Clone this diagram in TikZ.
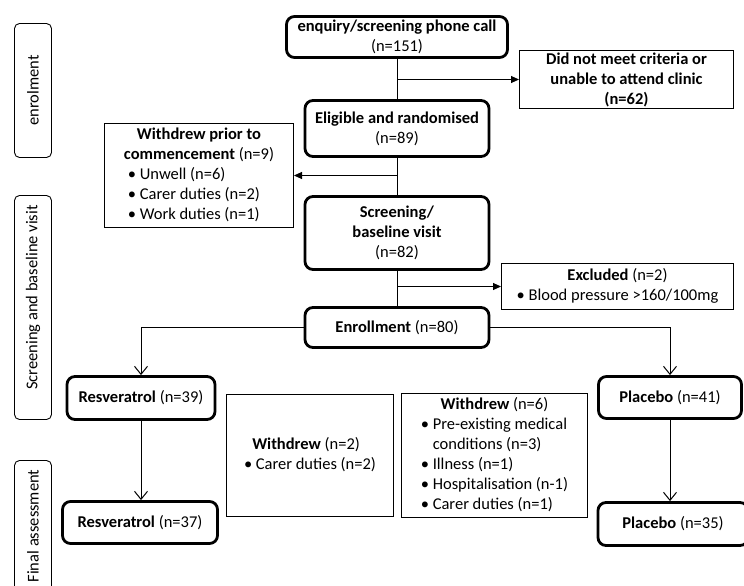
\documentclass[tikz,border=0pt]{standalone}
\usepackage{fontspec}
\setmainfont{Carlito}
\usepackage{tikz}
\usetikzlibrary{positioning, arrows.meta}

\newcommand{\bul}{\makebox[0.72em][l]{\textbullet}}

\begin{document}
\begin{tikzpicture}[x=1pt, y=-1pt,
    font=\fontsize{16.5}{20}\selectfont,
    stagebox/.style={draw, line width=2.8pt, rounded corners=8pt, align=center, inner sep=2pt},
    notebox/.style={draw, line width=1pt, align=center, inner sep=2pt},
    phasebox/.style={draw, line width=0.9pt, rounded corners=5pt, rotate=90, minimum height=37pt, inner sep=2pt},
    flow/.style={line width=1pt},
    sidearrow/.style={flow, -{Triangle[length=8pt, width=7pt]}},
    downarrow/.style={flow, -{Straight Barb[length=8pt, width=13pt]}}]
    \useasboundingbox (0,0) rectangle (744,586);

    % Study phases
    \node[phasebox, minimum width=134pt] (phenrol) at (33,90.5) {enrolment};
    \node[phasebox, minimum width=224pt] (phscreen) at (33,307.5) {\hspace*{20pt}Screening and baseline visit};
    \node[phasebox, minimum width=131pt] (phfinal) at (33,526) {Final assessment};

    % Main flow
    \node[stagebox, minimum width=221pt, minimum height=41pt] (call) at (397,37)
        {\textbf{enquiry/screening phone call}\\(n=151)};
    \node[stagebox, minimum width=184pt, minimum height=56pt] (elig) at (397,128.5)
        {\textbf{Eligible and randomised}\\(n=89)};
    \node[stagebox, minimum width=184pt, minimum height=73pt] (screen) at (397,233)
        {\textbf{Screening/}\\\textbf{baseline visit}\\(n=82)};
    \node[stagebox, minimum width=184pt, minimum height=40pt] (enrol) at (397,327.5)
        {\textbf{Enrollment} (n=80)};

    % Study arms
    \node[stagebox, minimum width=148pt, minimum height=43pt] (res1) at (141,398) {\textbf{Resveratrol} (n=39)};
    \node[stagebox, minimum width=155pt, minimum height=42pt] (res2) at (140,522.5) {\textbf{Resveratrol} (n=37)};
    \node[stagebox, minimum width=143pt, minimum height=42pt] (plac1) at (670,397.5) {\textbf{Placebo} (n=41)};
    \node[stagebox, minimum width=150pt, minimum height=43pt] (plac2) at (673,524) {\textbf{Placebo} (n=35)};

    % Exclusions and withdrawals
    \node[notebox, minimum width=214pt, minimum height=56pt] (notmet) at (626.5,79.5)
        {\textbf{Did not meet criteria or}\\\textbf{unable to attend clinic}\\\textbf{(n=62)}};
    \node[notebox, minimum width=189pt, minimum height=102pt] (wdprior) at (199,175.5)
        {\begin{tabular}{@{}l@{}}
         \multicolumn{1}{@{}c@{}}{\textbf{Withdrew prior to}}\\
         \multicolumn{1}{@{}c@{}}{\textbf{commencement} (n=9)}\\
         \hspace*{4pt}\bul Unwell (n=6)\\
         \hspace*{4pt}\bul Carer duties (n=2)\\
         \hspace*{4pt}\bul Work duties (n=1)
         \end{tabular}};
    \node[notebox, minimum width=232pt, minimum height=46pt] (excl) at (617.5,286.5)
        {\begin{tabular}{@{}l@{}}
         \multicolumn{1}{@{}c@{}}{\textbf{Excluded} (n=2)}\\
         \bul Blood pressure >160/100mg
         \end{tabular}};
    \node[notebox, minimum width=167pt, minimum height=122pt] (wd2) at (310,455.5)
        {\begin{tabular}{@{}l@{}}
         \hspace*{0.5em}\textbf{Withdrew} (n=2)\\
         \bul Carer duties (n=2)
         \end{tabular}};
    \node[notebox, minimum width=186pt, minimum height=122pt] (wd6) at (494.5,455.5)
        {\begin{tabular}{@{}l@{}}
         \multicolumn{1}{@{}c@{}}{\textbf{Withdrew} (n=6)}\\
         \bul Pre-existing medical\\
         \hspace*{0.72em}conditions (n=3)\\
         \bul Illness (n=1)\\
         \bul Hospitalisation (n-1)\\
         \bul Carer duties (n=1)
         \end{tabular}};

    % Connections
    \draw[flow] (call) -- (elig);
    \draw[flow] (elig) -- (screen);
    \draw[flow] (screen) -- (enrol);
    \coordinate (tapnotmet) at (call.south |- notmet.west);
    \coordinate (tapprior) at (elig.south |- wdprior.east);
    \coordinate (tapexcl) at (screen.south |- excl.west);
    \draw[sidearrow] (tapnotmet) -- (notmet.west);
    \draw[sidearrow] (tapprior) -- (wdprior.east);
    \draw[sidearrow] (tapexcl) -- (excl.west);
    \draw[downarrow] (enrol.west) -| (res1.north);
    \draw[downarrow] (enrol.east) -| (plac1.north);
    \draw[downarrow] (res1.south) -- (res1.south |- res2.north);
    \draw[downarrow] (plac1.south) -- (plac1.south |- plac2.north);
\end{tikzpicture}
\end{document}
